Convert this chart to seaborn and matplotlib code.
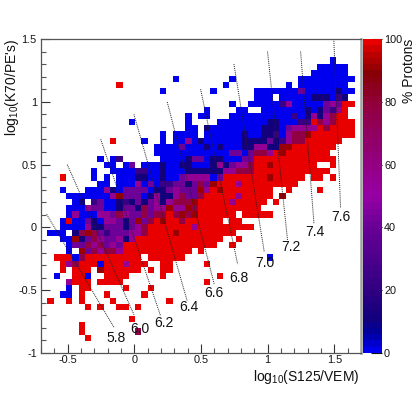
import numpy as np
import pandas as pd
import matplotlib
matplotlib.use("Agg")
import matplotlib.pyplot as plt
from matplotlib.colors import LinearSegmentedColormap, ListedColormap
from matplotlib.ticker import FixedLocator, MultipleLocator
import seaborn as sns

N_BINS = 51
X_RANGE = (-0.7, 1.7)
Y_RANGE = (-1.0, 1.5)

# percent value for each letter
CODES = {"B": 0, "n": 10, "p": 22, "u": 40, "m": 55, "c": 76, "d": 90, "R": 100}

# row (from top) -> list of (first column, letters)
CELLS = {
    3: [(46, "B")],
    4: [(44, "BBBBB")],
    5: [(43, "BBBBBB")],
    6: [(21, "B"), (30, "B"), (41, "BBBBBBBBB")],
    7: [(12, "R"), (29, "B"), (39, "B"), (41, "BBBBBBBB")],
    8: [(19, "B"), (27, "B"), (34, "BBBBBBBuBBBBBnBB")],
    9: [(34, "BBB"), (38, "BBBBBnnnBpn")],
    10: [(30, "B"), (33, "BBBBBpmBBBBBumuRR")],
    11: [(26, "B"), (31, "BB"), (35, "BBBBBBBnBnupmR")],
    12: [(23, "B"), (25, "BB"), (30, "BBBBBBBBBBpBnmnmcRR")],
    13: [(14, "B"), (23, "B"), (28, "BBBBBBBBnnBBBppRcmcRRR")],
    14: [(23, "BB"), (26, "n"), (27, "BBBBBBBBnnnBummmmRcRRRR")],
    15: [(19, "B"), (21, "BBBB"), (26, "BBBBBBnBBnnpBmccdRRRRRRR")],
    16: [(11, "R"), (16, "B"), (19, "B"), (21, "BB"), (23, "mBnBBBBBBnnnnunpmccRRRRRR")],
    17: [(18, "BBBBuBBBnBnBBBnnmmnnddRRRRRRR")],
    18: [(18, "BBBBBBBBBBBBuuBuccmRdRRRRRRR")],
    19: [(9, "B"), (11, "Bp"), (19, "BBBBnuuBnnBBBuuRRRRRRRRRRRRR")],
    20: [(10, "BB"), (13, "Bu"), (16, "BBBnBBnnBBBnmnummcRRdRRRRRRR"), (46, "R")],
    21: [(8, "B"), (11, "BBBBppBBnBBBnnnnnnmmcccRRRRRRRRRRRR")],
    22: [(3, "R"), (8, "B"), (10, "B"), (12, "BBBnnBBnBBummmmBuRRRRRRRdRRRRR"), (43, "RR"), (46, "R")],
    23: [(9, "BB"), (12, "BBBmBuBppuunucudRRRmRRRRRRRRR")],
    24: [(3, "B"), (7, "BBBmnBuuuuBnnumuuudmRdRRRRRRRR"), (39, "R"), (44, "R")],
    25: [(4, "BBBBBBBmduuuBnmnnmcuucRRRRRmRRRRR"), (38, "d")],
    26: [(5, "Bn"), (8, "puBBnpnunumnmcccdRRRRRmRRRRR"), (37, "R")],
    27: [(4, "BBBmuuBBnuuncummdmmdcRRRRRRRRRR")],
    28: [(4, "BmBBBmmucmuucuccRcdcdRRRRRR"), (32, "RRRRR")],
    29: [(3, "BRBBunBmmunuducRdRRcRRRRRR"), (30, "RR")],
    30: [(3, "BBBBmnnuuunumcRRRRRRRmRRRRRRRRR")],
    31: [(1, "BBB"), (5, "ncdcupuuummcRRRRdRRRRRRRRR")],
    32: [(3, "BBdnucmuumnmRRRRRRRRRRRRRR"), (31, "R")],
    33: [(4, "BuucmcumuRRRRRRRRRRRRRRR"), (30, "R")],
    34: [(4, "B"), (6, "ducmccmRRRRRRRRRRR"), (25, "R")],
    35: [(2, "RRR"), (5, "B"), (6, "cRRRRRRRRR"), (17, "RRRRRR"), (36, "B")],
    36: [(3, "RmcRRR"), (9, "B"), (10, "RRRmRRR"), (19, "RR"), (26, "R")],
    37: [(3, "R"), (5, "RRR"), (9, "dRRRRRR"), (17, "R"), (19, "RR")],
    38: [(2, "B"), (5, "RR"), (7, "B"), (10, "RRRR"), (19, "R"), (28, "R")],
    39: [(4, "mRRR"), (9, "RRRR"), (26, "R")],
    40: [(4, "B"), (6, "RR"), (13, "R"), (17, "R")],
    41: [(3, "BB"), (6, "R"), (10, "R"), (16, "R")],
    42: [(1, "R"), (4, "R"), (6, "R"), (11, "R"), (20, "R")],
    43: [(7, "R"), (9, "R"), (12, "RR"), (15, "R")],
    45: [(14, "R")],
    46: [(6, "R")],
    47: [(6, "R"), (15, "c")],
    48: [(7, "R")],
}

ISO_LABELS = ["5.8", "6.0", "6.2", "6.4", "6.6", "6.8", "7.0", "7.2", "7.4", "7.6"]
ISO_X0 = [-0.657, -0.503, -0.252, -0.003, 0.247, 0.497, 0.747, 0.999, 1.247, 1.496]
ISO_Y0 = [0.104, 0.499, 0.701, 0.900, 0.998, 1.100, 1.300, 1.400, 1.400, 1.498]
ISO_X1 = [-0.153, -0.003, 0.197, 0.397, 0.599, 0.775, 0.974, 1.149, 1.347, 1.547]
ISO_Y1 = [-0.795, -0.695, -0.705, -0.588, -0.451, -0.294, -0.193, -0.100, 0.033, 0.152]
LABEL_X = [-0.138, 0.042, 0.222, 0.410, 0.597, 0.784, 0.980, 1.174, 1.354, 1.549]
LABEL_Y = [-0.880, -0.810, -0.758, -0.634, -0.522, -0.403, -0.283, -0.156, -0.037, 0.083]

X_TICKS = [-0.5, 0, 0.5, 1, 1.5]
X_TICK_LABELS = ["-0.5", "0", "0.5", "1", "1.5"]
Y_TICKS = [-1, -0.5, 0, 0.5, 1, 1.5]
Y_TICK_LABELS = ["-1", "-0.5", "0", "0.5", "1", "1.5"]
CBAR_TICKS = [0, 20, 40, 60, 80, 100]

CMAP_PCT = [0, 2, 5, 10, 20, 40, 50, 65, 80, 90, 97, 100]
CMAP_RGB = [(0, 0, 238), (0, 0, 205), (0, 0, 160), (18, 0, 125), (50, 0, 130), (105, 0, 150),
            (150, 0, 165), (145, 0, 115), (145, 0, 60), (135, 0, 5), (195, 0, 0), (232, 0, 0)]

sns.set_theme(style="white")
plt.rcParams["font.family"] = ["Liberation Sans", "DejaVu Sans"]
plt.rcParams["mathtext.default"] = "regular"

grid = np.full((N_BINS, N_BINS), np.nan)
for row, segments in CELLS.items():
    for start, letters in segments:
        for k, letter in enumerate(letters):
            grid[row, start + k] = CODES[letter]
frame = pd.DataFrame(grid)

base = LinearSegmentedColormap.from_list(
    "protons",
    [(p / 100, tuple(c / 255 for c in rgb)) for p, rgb in zip(CMAP_PCT, CMAP_RGB)],
    N=256,
)
cmap = ListedColormap(base(np.linspace(0, 1, 50)))

W, H = 415, 393
fig = plt.figure(figsize=(W / 100, H / 100), dpi=100, facecolor="white")
rect = [41 / W, (H - 353) / H, 320 / W, 314 / H]
ax_map = fig.add_axes(rect)
cax = fig.add_axes([363 / W, (H - 353) / H, 19 / W, 314 / H])

sns.heatmap(frame, ax=ax_map, cbar_ax=cax, cmap=cmap, vmin=0, vmax=100,
            linewidths=0, antialiased=True, xticklabels=False, yticklabels=False)
ax_map.set_xlabel("")
ax_map.set_ylabel("")
for s in ax_map.spines.values():
    s.set_visible(False)

# data axes on top of the heatmap for the real scales
ax = fig.add_axes(rect, facecolor="none")
ax.set_xlim(*X_RANGE)
ax.set_ylim(*Y_RANGE)
for x0, y0, x1, y1, lab, lx, ly in zip(ISO_X0, ISO_Y0, ISO_X1, ISO_Y1, ISO_LABELS, LABEL_X, LABEL_Y):
    sns.lineplot(x=[x0, x1], y=[y0, y1], ax=ax, color="#222222", lw=0.7,
                 linestyle=(0, (1, 1)), estimator=None, sort=False, legend=False)
    ax.text(lx, ly, lab, fontsize=10, ha="center", va="center", color="#111111")

ax.set_xlabel("")
ax.set_ylabel("")
ax.xaxis.set_major_locator(FixedLocator(X_TICKS))
ax.set_xticklabels(X_TICK_LABELS)
ax.yaxis.set_major_locator(FixedLocator(Y_TICKS))
ax.set_yticklabels(Y_TICK_LABELS)
ax.xaxis.set_minor_locator(MultipleLocator(0.1))
ax.yaxis.set_minor_locator(MultipleLocator(0.1))
ax.tick_params(axis="both", which="major", direction="in", length=6.6, width=0.8,
               color="#333333", labelsize=7.8, labelcolor="#111111",
               bottom=True, left=True, top=False, right=False)
ax.tick_params(axis="x", which="major", pad=1.5)
ax.tick_params(axis="y", which="major", pad=3)
ax.tick_params(axis="both", which="minor", direction="in", length=3.4, width=0.8,
               color="#555555", bottom=True, left=True, top=False, right=False)
for name, spine in ax.spines.items():
    spine.set_color("#555555")
    spine.set_linewidth(0.9)
ax.spines["right"].set_color("#a0a0a0")
ax.spines["right"].set_linewidth(1.8)

fig.text(360 / W, 1 - 377 / H, "log$_{10}$(S125/VEM)", fontsize=10, ha="right", va="center", color="#111111")
fig.text(12 / W, 1 - 39 / H, "log$_{10}$(K70/PE's)", fontsize=10, rotation=90, ha="center", va="top", color="#111111")
fig.text(409 / W, 1 - 39 / H, "% Protons", fontsize=10, rotation=90, ha="center", va="top", color="#111111")

cax.yaxis.set_major_locator(FixedLocator(CBAR_TICKS))
cax.set_yticklabels([str(t) for t in CBAR_TICKS])
cax.tick_params(axis="y", which="both", direction="in", right=True, left=False,
                length=8, width=0.8, color="#111111", labelsize=7.8, labelcolor="#111111", pad=1.5)
for s in cax.spines.values():
    s.set_visible(False)

fig.savefig("out.png", dpi=100, facecolor="white")
